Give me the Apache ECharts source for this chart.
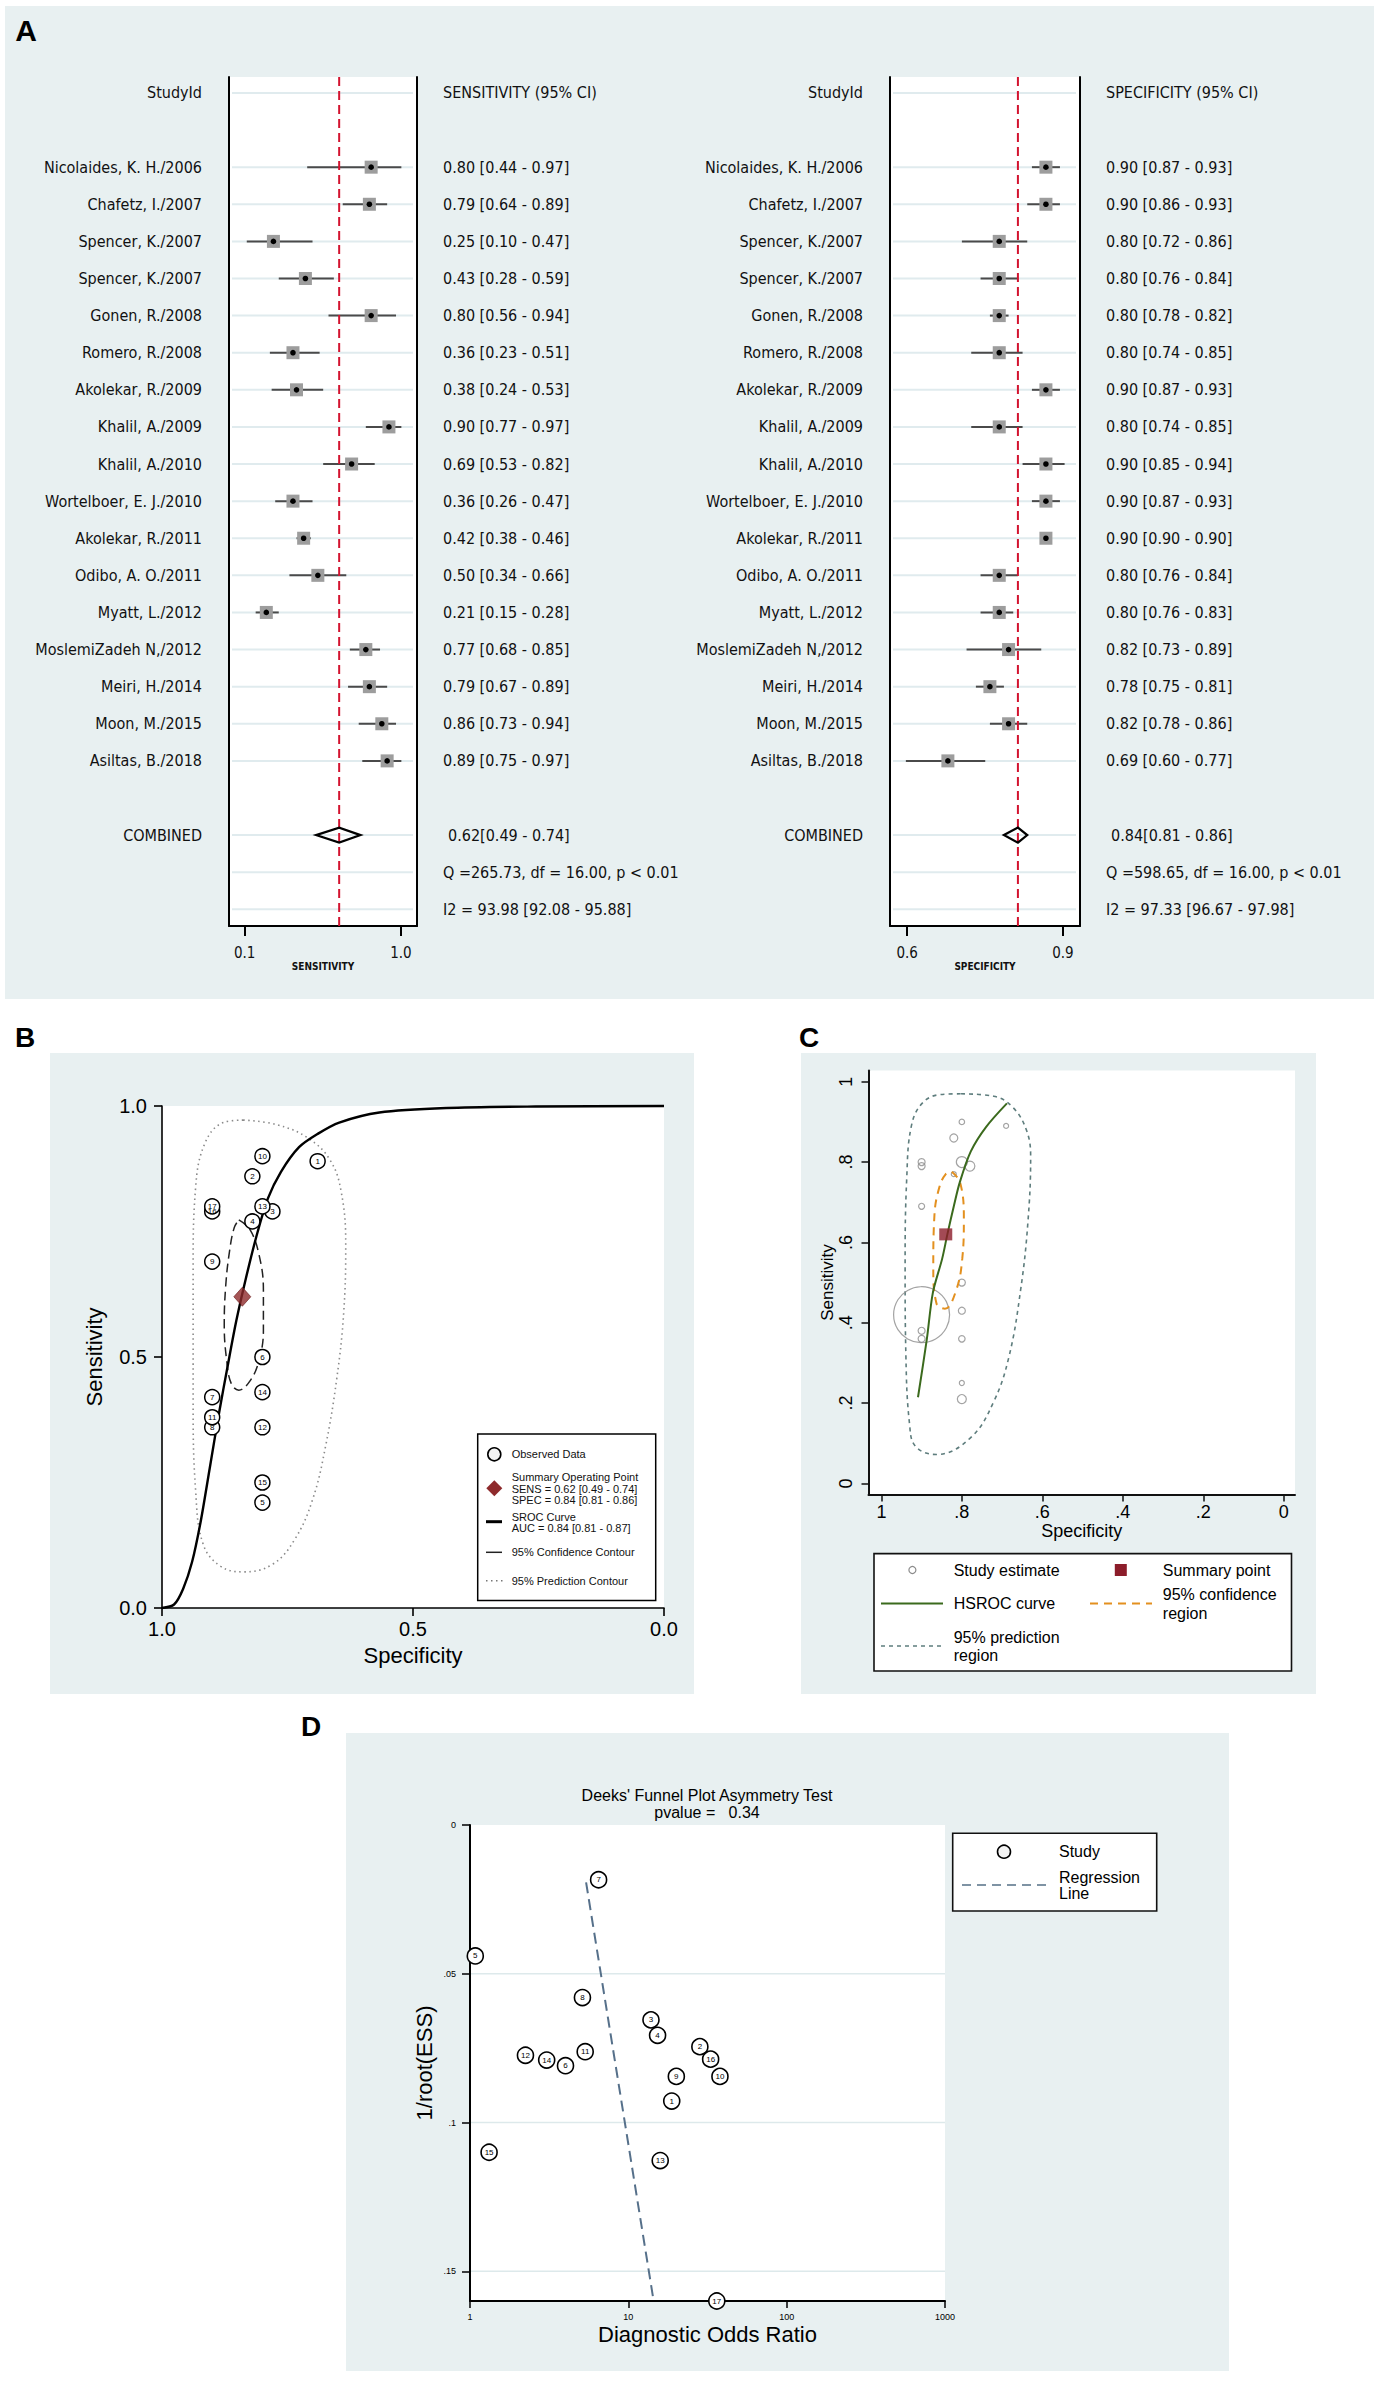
<!DOCTYPE html>
<html><head><meta charset="utf-8">
<script src="https://cdn.jsdelivr.net/npm/echarts@6/dist/echarts.min.js"></script>
<style>html,body{margin:0;padding:0;background:#fff}#c{width:1378px;height:2381px}</style>
</head><body><div id="c"></div>
<script>
// ---------------- DATA ----------------
const studies = ["Nicolaides, K. H./2006","Chafetz, I./2007","Spencer, K./2007","Spencer, K./2007","Gonen, R./2008","Romero, R./2008","Akolekar, R./2009","Khalil, A./2009","Khalil, A./2010","Wortelboer, E. J./2010","Akolekar, R./2011","Odibo, A. O./2011","Myatt, L./2012","MoslemiZadeh N,/2012","Meiri, H./2014","Moon, M./2015","Asiltas, B./2018"];
const sensEst = [0.80,0.79,0.25,0.43,0.80,0.36,0.38,0.90,0.69,0.36,0.42,0.50,0.21,0.77,0.79,0.86,0.89];
const sensLo  = [0.44,0.64,0.10,0.28,0.56,0.23,0.24,0.77,0.53,0.26,0.38,0.34,0.15,0.68,0.67,0.73,0.75];
const sensHi  = [0.97,0.89,0.47,0.59,0.94,0.51,0.53,0.97,0.82,0.47,0.46,0.66,0.28,0.85,0.89,0.94,0.97];
const specEst = [0.90,0.90,0.80,0.80,0.80,0.80,0.90,0.80,0.90,0.90,0.90,0.80,0.80,0.82,0.78,0.82,0.69];
const specLo  = [0.87,0.86,0.72,0.76,0.78,0.74,0.87,0.74,0.85,0.87,0.90,0.76,0.76,0.73,0.75,0.78,0.60];
const specHi  = [0.93,0.93,0.86,0.84,0.82,0.85,0.93,0.85,0.94,0.93,0.90,0.84,0.83,0.89,0.81,0.86,0.77];
const sensPooled = [0.62,0.49,0.74];
const specPooled = [0.84,0.81,0.86];
const sensHetQ = "Q =265.73, df = 16.00, p < 0.01";
const sensHetI2 = "I2 = 93.98 [92.08 - 95.88]";
const specHetQ = "Q =598.65, df = 16.00, p < 0.01";
const specHetI2 = "I2 = 97.33 [96.67 - 97.98]";
const sensTicks = [0.1, 1.0];
const specTicks = [0.6, 0.9];
// study numbers used in panels B and D (same order as studies)
const studyNumbers = [17,16,15,14,13,12,11,10,9,8,7,6,5,4,3,2,1];
// relative study weight shown in panel C (bubble diameter)
const studyWeightC = [7,7,5,7,11,6.5,7,5.5,6,7,56,7,9,5,10,8,5];
// Panel B curves: [specificity, sensitivity]
const srocCurve = [[1.0,0],[0.976,0.007],[0.958,0.038],[0.940,0.092],[0.923,0.172],[0.905,0.278],[0.887,0.385],[0.869,0.483],[0.852,0.572],[0.834,0.652],[0.812,0.740],[0.789,0.816],[0.763,0.869],[0.727,0.918],[0.689,0.945],[0.647,0.967],[0.567,0.987],[0.434,0.996],[0.256,0.999],[0,1.0]];
const confContourB = [[0.847,0.773],[0.825,0.754],[0.807,0.705],[0.798,0.634],[0.798,0.554],[0.807,0.492],[0.825,0.452],[0.847,0.434],[0.862,0.447],[0.871,0.492],[0.876,0.563],[0.873,0.643],[0.865,0.714],[0.856,0.758],[0.847,0.773]];
const predContourB = [[0.838,0.972],[0.772,0.963],[0.709,0.936],[0.665,0.892],[0.643,0.829],[0.634,0.723],[0.638,0.589],[0.652,0.456],[0.674,0.323],[0.700,0.216],[0.736,0.136],[0.780,0.087],[0.838,0.072],[0.883,0.083],[0.918,0.127],[0.933,0.234],[0.938,0.412],[0.938,0.678],[0.933,0.838],[0.914,0.927],[0.878,0.967],[0.838,0.972]];
// Panel C curves
const hsrocCurve = [[0.909,0.2145],[0.887,0.359],[0.872,0.475],[0.849,0.559],[0.836,0.620],[0.820,0.690],[0.805,0.750],[0.778,0.826],[0.740,0.887],[0.688,0.946]];
const confRegionC = [[0.825,0.776],[0.804,0.748],[0.795,0.659],[0.799,0.559],[0.814,0.481],[0.842,0.435],[0.863,0.448],[0.871,0.537],[0.868,0.670],[0.856,0.737],[0.840,0.770],[0.825,0.776]];
const predRegionC = [[0.802,0.970],[0.721,0.964],[0.674,0.937],[0.640,0.881],[0.629,0.814],[0.636,0.648],[0.654,0.481],[0.683,0.315],[0.721,0.203],[0.778,0.114],[0.863,0.072],[0.915,0.092],[0.930,0.148],[0.939,0.315],[0.941,0.537],[0.937,0.759],[0.925,0.892],[0.897,0.948],[0.854,0.968],[0.802,0.970]];
// Panel D (Deeks) by study number 1..17
const deeksNumber = [1,2,3,4,5,6,7,8,9,10,11,12,13,14,15,16,17];
const deeksDOR = [18.8,28.3,13.9,15.3,1.08,4.01,6.49,5.13,20.1,37.9,5.34,2.24,15.9,3.05,1.32,33.1,36.2];
const deeksInvRootESS = [0.0928,0.0745,0.0655,0.0707,0.044,0.0809,0.0184,0.058,0.0845,0.0845,0.0762,0.0774,0.1128,0.079,0.110,0.0787,0.16];
const deeksRegression = [[5.41,0.0193],[14.35,0.159]];
const deeksYTicks = [0,0.05,0.1,0.15];
const deeksPvalue = "0.34";
const unitTicksC = [0,0.2,0.4,0.6,0.8,1];

// ---------------- STYLE ----------------
const FN = "'Liberation Sans Narrow','Arial Narrow','DejaVu Sans Condensed',sans-serif";
const FS = "'Liberation Sans',Arial,Helvetica,sans-serif";
const BG = '#e8f0f1';
const ROWLINE = '#e0ebee';

const chart = echarts.init(document.getElementById('c'), null, {renderer:'svg', width:1378, height:2381});

function fmtCI(e,l,h){return e.toFixed(2)+' ['+l.toFixed(2)+' - '+h.toFixed(2)+']';}
function fmtPooled(p){return p[0].toFixed(2)+'['+p[1].toFixed(2)+' - '+p[2].toFixed(2)+']';}

const rowLines = [0,2,3,4,5,6,7,8,9,10,11,12,13,14,15,16,17,18,20,21,22];

function forestSeries(xi, yi, est, lo, hi, pooled, header, hetQ, hetI2){
  return [
    { type:'custom', xAxisIndex:xi, yAxisIndex:yi, clip:false, z:1, silent:true,
      data: rowLines.map(r=>[0.5,r]), encode:{x:0,y:1},
      renderItem:(params, api)=>{
        const cs = params.coordSys; const y = api.coord([api.value(0), api.value(1)])[1];
        return {type:'line', shape:{x1:cs.x+3,y1:y,x2:cs.x+cs.width-4,y2:y}, style:{stroke:ROWLINE,lineWidth:2}};
      }},
    { type:'custom', xAxisIndex:xi, yAxisIndex:yi, clip:false, z:3, silent:true,
      data: est.map((v,i)=>[v,i+2,lo[i],hi[i]]), encode:{x:0,y:1},
      renderItem:(params, api)=>{
        const i = params.dataIndex, cs = params.coordSys, row = api.value(1);
        const p = api.coord([api.value(0), row]);
        const a = api.coord([api.value(2), row]);
        const b = api.coord([api.value(3), row]);
        return {type:'group', children:[
          {type:'line', shape:{x1:a[0],y1:a[1],x2:b[0],y2:b[1]}, style:{stroke:'#4a4a4a',lineWidth:2}},
          {type:'rect', shape:{x:p[0]-6.5,y:p[1]-6.5,width:13,height:13}, style:{fill:'#9d9d9d'}},
          {type:'circle', shape:{cx:p[0],cy:p[1],r:2.8}, style:{fill:'#000'}},
          {type:'text', x:cs.x-27, y:p[1], style:{text:studies[i], fill:'#111', font:'16px '+FN, align:'right', verticalAlign:'middle'}},
          {type:'text', x:cs.x+cs.width+26, y:p[1], style:{text:fmtCI(est[i],lo[i],hi[i]), fill:'#111', font:'16px '+FN, align:'left', verticalAlign:'middle'}}
        ]};
      }},
    { type:'custom', xAxisIndex:xi, yAxisIndex:yi, clip:false, z:4, silent:true,
      data: [[pooled[0],20,pooled[1],pooled[2]]], encode:{x:0,y:1},
      renderItem:(params, api)=>{
        const cs = params.coordSys, row = api.value(1);
        const p = api.coord([api.value(0), row]);
        const a = api.coord([api.value(2), row]);
        const b = api.coord([api.value(3), row]);
        const y0 = api.coord([api.value(0), 0])[1];
        const y21 = api.coord([api.value(0), 21])[1];
        const y22 = api.coord([api.value(0), 22])[1];
        const tx = cs.x+cs.width+26, lx = cs.x-27;
        const T = (x,y,t,al)=>({type:'text', x:x, y:y, style:{text:t, fill:'#111', font:'16px '+FN, align:al, verticalAlign:'middle'}});
        return {type:'group', children:[
          {type:'line', shape:{x1:p[0],y1:cs.y,x2:p[0],y2:cs.y+cs.height}, style:{stroke:'#d3132f',lineWidth:2,lineDash:[9,5]}},
          {type:'polygon', shape:{points:[[a[0],p[1]],[p[0],p[1]-7.5],[b[0],p[1]],[p[0],p[1]+7.5]]}, style:{fill:'none',stroke:'#000',lineWidth:2.2}},
          T(lx,p[1],'COMBINED','right'),
          T(tx+5,p[1],fmtPooled(pooled),'left'),
          T(lx,y0,'StudyId','right'),
          T(tx,y0,header,'left'),
          T(tx,y21,hetQ,'left'),
          T(tx,y22,hetI2,'left')
        ]};
      }}
  ];
}

function bubbleLabel(){return {show:true, position:'inside', formatter:p=>String(p.data[2]), fontSize:8, color:'#000', fontFamily:FS};}

const orderAsc = studyNumbers.map((n,i)=>i).sort((a,b)=>studyNumbers[a]-studyNumbers[b]);

const rowAxis = (gi, pos)=>({type:'value', gridIndex:gi, min:-0.43, max:22.45, inverse:true, position:pos,
  axisLine:{show:true, onZero:false, lineStyle:{color:'#000',width:2}}, axisTick:{show:false}, axisLabel:{show:false}, splitLine:{show:false}});

const option = {
  animation:false,
  backgroundColor:'#fff',
  grid:[
    {left:229, top:77, width:188, height:849, show:true, backgroundColor:'#fff', borderWidth:0},
    {left:890, top:77, width:190, height:849, show:true, backgroundColor:'#fff', borderWidth:0},
    {left:162, top:1106, width:502, height:502, show:true, backgroundColor:'#fff', borderWidth:0},
    {left:868.5, top:1070.5, width:426.5, height:424, show:true, backgroundColor:'#fff', borderWidth:0},
    {left:470, top:1825, width:475, height:476, show:true, backgroundColor:'#fff', borderWidth:0}
  ],
  xAxis:[
    {type:'value', gridIndex:0, min:0, max:1.058, show:false, position:'top'},
    {type:'value', gridIndex:0, min:0.0102, max:1.0927, position:'bottom',
      axisLine:{show:true, onZero:false, lineStyle:{color:'#000',width:2}},
      axisTick:{show:true, length:10, customValues:sensTicks, lineStyle:{color:'#000',width:2}},
      axisLabel:{show:true, customValues:sensTicks, formatter:v=>v.toFixed(1), margin:19, fontSize:15, color:'#111', fontFamily:FN},
      splitLine:{show:false}, name:'SENSITIVITY', nameLocation:'middle', nameGap:35,
      nameTextStyle:{fontSize:10, fontWeight:'bold', color:'#111', fontFamily:FN}},
    {type:'value', gridIndex:1, min:0.566, max:0.973, show:false, position:'top'},
    {type:'value', gridIndex:1, min:0.567, max:0.933, position:'bottom',
      axisLine:{show:true, onZero:false, lineStyle:{color:'#000',width:2}},
      axisTick:{show:true, length:10, customValues:specTicks, lineStyle:{color:'#000',width:2}},
      axisLabel:{show:true, customValues:specTicks, formatter:v=>v.toFixed(1), margin:19, fontSize:15, color:'#111', fontFamily:FN},
      splitLine:{show:false}, name:'SPECIFICITY', nameLocation:'middle', nameGap:35,
      nameTextStyle:{fontSize:10, fontWeight:'bold', color:'#111', fontFamily:FN}},
    {type:'value', gridIndex:2, min:0, max:1, interval:0.5, inverse:true,
      axisLine:{show:true, onZero:false, lineStyle:{color:'#000',width:1.6}},
      axisTick:{show:true, length:8, lineStyle:{color:'#000',width:1.6}},
      axisLabel:{formatter:v=>v.toFixed(1), margin:11, fontSize:20, color:'#000', fontFamily:FS},
      splitLine:{show:false}, name:'Specificity', nameLocation:'middle', nameGap:36,
      nameTextStyle:{fontSize:22, color:'#000', fontFamily:FS}},
    {type:'value', gridIndex:3, min:-0.028, max:1.032, inverse:true,
      axisLine:{show:true, onZero:false, lineStyle:{color:'#111',width:2}},
      axisTick:{show:true, length:7, customValues:unitTicksC, lineStyle:{color:'#111',width:1.5}},
      axisLabel:{customValues:unitTicksC, formatter:v=>(v===0?'0':v===1?'1':'.'+Math.round(v*10)), margin:8, fontSize:18, color:'#000', fontFamily:FS},
      splitLine:{show:false}, name:'Specificity', nameLocation:'middle', nameGap:27,
      nameTextStyle:{fontSize:18, color:'#000', fontFamily:FS}},
    {type:'log', logBase:10, gridIndex:4, min:1, max:1000,
      axisLine:{show:true, onZero:false, lineStyle:{color:'#000',width:2}},
      axisTick:{show:true, length:7, lineStyle:{color:'#000',width:1.5}},
      axisLabel:{formatter:v=>String(Math.round(v)), margin:11, fontSize:9, color:'#000', fontFamily:FS},
      minorTick:{show:false}, splitLine:{show:false}, name:'Diagnostic Odds Ratio', nameLocation:'middle', nameGap:22,
      nameTextStyle:{fontSize:22, color:'#000', fontFamily:FS}}
  ],
  yAxis:[
    rowAxis(0,'left'), rowAxis(0,'right'), rowAxis(1,'left'), rowAxis(1,'right'),
    {type:'value', gridIndex:2, min:0, max:1, interval:0.5,
      axisLine:{show:true, onZero:false, lineStyle:{color:'#000',width:1.6}},
      axisTick:{show:true, length:8, lineStyle:{color:'#000',width:1.6}},
      axisLabel:{formatter:v=>v.toFixed(1), margin:15, fontSize:20, color:'#000', fontFamily:FS},
      splitLine:{show:false}, name:'Sensitivity', nameLocation:'middle', nameGap:57,
      nameTextStyle:{fontSize:22, color:'#000', fontFamily:FS}},
    {type:'value', gridIndex:3, min:-0.0276, max:1.028,
      axisLine:{show:true, onZero:false, lineStyle:{color:'#111',width:2}},
      axisTick:{show:true, length:7, customValues:unitTicksC, lineStyle:{color:'#111',width:1.5}},
      axisLabel:{customValues:unitTicksC, rotate:90, formatter:v=>(v===0?'0':v===1?'1':'.'+Math.round(v*10)), margin:14, fontSize:18, color:'#000', fontFamily:FS},
      splitLine:{show:false}, name:'Sensitivity', nameLocation:'middle', nameGap:30,
      nameTextStyle:{fontSize:17, color:'#000', fontFamily:FS}},
    {type:'value', gridIndex:4, min:0, max:0.16, inverse:true,
      axisLine:{show:true, onZero:false, lineStyle:{color:'#000',width:2}},
      axisTick:{show:true, length:8, customValues:deeksYTicks, lineStyle:{color:'#000',width:1.5}},
      axisLabel:{customValues:deeksYTicks, formatter:v=>(v===0?'0':String(v).replace(/^0/,'')), margin:14, fontSize:9, color:'#000', fontFamily:FS},
      splitLine:{show:false}, name:'1/root(ESS)', nameLocation:'middle', nameGap:35,
      nameTextStyle:{fontSize:22, color:'#000', fontFamily:FS}}
  ],
  series:[
    ...forestSeries(0,0,sensEst,sensLo,sensHi,sensPooled,'SENSITIVITY (95% CI)',sensHetQ,sensHetI2),
    ...forestSeries(2,2,specEst,specLo,specHi,specPooled,'SPECIFICITY (95% CI)',specHetQ,specHetI2),
    // Panel B
    {type:'line', xAxisIndex:4, yAxisIndex:4, data:predContourB, smooth:0.4, showSymbol:false, symbol:'none', clip:false, silent:true,
      lineStyle:{color:'#8a8a8a', width:1.6, type:[1.5,3.5]}, z:2},
    {type:'line', xAxisIndex:4, yAxisIndex:4, data:confContourB, smooth:0.4, showSymbol:false, symbol:'none', clip:false, silent:true,
      lineStyle:{color:'#222', width:1.5, type:[9,5]}, z:2},
    {type:'line', xAxisIndex:4, yAxisIndex:4, data:srocCurve, smooth:0.3, showSymbol:false, symbol:'none', clip:false, silent:true,
      lineStyle:{color:'#000', width:2.4}, z:3},
    {type:'scatter', xAxisIndex:4, yAxisIndex:4, clip:false, silent:true, z:4,
      data: orderAsc.map(i=>[specEst[i], sensEst[i], studyNumbers[i]]),
      symbol:'circle', symbolSize:15, itemStyle:{color:'#fff', borderColor:'#000', borderWidth:1.5, opacity:1},
      label:bubbleLabel()},
    {type:'scatter', xAxisIndex:4, yAxisIndex:4, clip:false, silent:true, z:5,
      data:[[specPooled[0], sensPooled[0]]], symbol:'diamond', symbolSize:[17,19],
      itemStyle:{color:'#8e2a2c', borderColor:'#6a1a1c', borderWidth:0.8}},
    // Panel C
    {type:'line', xAxisIndex:5, yAxisIndex:5, data:predRegionC, smooth:0.4, showSymbol:false, symbol:'none', clip:false, silent:true,
      lineStyle:{color:'#5e7d7d', width:1.6, type:[4,4]}, z:2},
    {type:'scatter', xAxisIndex:5, yAxisIndex:5, clip:false, silent:true, z:3,
      data: specEst.map((s,i)=>[s, sensEst[i], studyWeightC[i]]),
      symbol:'circle', symbolSize:d=>d[2], itemStyle:{color:'rgba(255,255,255,0)', borderColor:'#8c8c8c', borderWidth:1.2}},
    {type:'line', xAxisIndex:5, yAxisIndex:5, data:confRegionC, smooth:0.4, showSymbol:false, symbol:'none', clip:false, silent:true,
      lineStyle:{color:'#e3901f', width:2, type:[8,6]}, z:4},
    {type:'line', xAxisIndex:5, yAxisIndex:5, data:hsrocCurve, smooth:0.3, showSymbol:false, symbol:'none', clip:false, silent:true,
      lineStyle:{color:'#3b6a1d', width:2}, z:5},
    {type:'scatter', xAxisIndex:5, yAxisIndex:5, clip:false, silent:true, z:6,
      data:[[specPooled[0], sensPooled[0]]], symbol:'rect', symbolSize:[13,12], itemStyle:{color:'#8c1d2a'}},
    // Panel D grid lines
    {type:'custom', xAxisIndex:6, yAxisIndex:6, clip:false, z:1, silent:true,
      data: deeksYTicks.filter(v=>v>0).map(v=>[10,v]), encode:{x:0,y:1},
      renderItem:(params, api)=>{
        const cs = params.coordSys; const y = api.coord([api.value(0), api.value(1)])[1];
        return {type:'line', shape:{x1:cs.x+1,y1:y,x2:cs.x+cs.width,y2:y}, style:{stroke:'#dde9eb',lineWidth:1.6}};
      }},
    {type:'line', xAxisIndex:6, yAxisIndex:6, data:deeksRegression, showSymbol:false, symbol:'none', clip:false, silent:true,
      lineStyle:{color:'#56708a', width:2, type:[11,6]}, z:3},
    {type:'scatter', xAxisIndex:6, yAxisIndex:6, clip:false, silent:true, z:4,
      data: deeksDOR.map((d,i)=>[d, deeksInvRootESS[i], deeksNumber[i]]),
      symbol:'circle', symbolSize:16, itemStyle:{color:'#fff', borderColor:'#000', borderWidth:1.6, opacity:1},
      label:bubbleLabel()}
  ],
  graphic:[
    // panel backgrounds
    {type:'rect', z:-10, silent:true, shape:{x:5,y:6,width:1369,height:993}, style:{fill:BG}},
    {type:'rect', z:-10, silent:true, shape:{x:50,y:1053,width:644,height:641}, style:{fill:BG}},
    {type:'rect', z:-10, silent:true, shape:{x:801,y:1053,width:515,height:641}, style:{fill:BG}},
    {type:'rect', z:-10, silent:true, shape:{x:346,y:1733,width:883,height:638}, style:{fill:BG}},
    // panel letters
    {type:'text', x:26, y:30, z:10, style:{text:'A', font:'bold 30px '+FS, fill:'#000', align:'center', verticalAlign:'middle'}},
    {type:'text', x:25, y:1037, z:10, style:{text:'B', font:'bold 28px '+FS, fill:'#000', align:'center', verticalAlign:'middle'}},
    {type:'text', x:809, y:1037, z:10, style:{text:'C', font:'bold 28px '+FS, fill:'#000', align:'center', verticalAlign:'middle'}},
    {type:'text', x:311, y:1726, z:10, style:{text:'D', font:'bold 28px '+FS, fill:'#000', align:'center', verticalAlign:'middle'}},
    // Panel D title
    {type:'text', x:707, y:1795, z:10, style:{text:"Deeks' Funnel Plot Asymmetry Test", font:'16px '+FS, fill:'#000', align:'center', verticalAlign:'middle'}},
    {type:'text', x:707, y:1812, z:10, style:{text:'pvalue =   '+deeksPvalue, font:'16px '+FS, fill:'#000', align:'center', verticalAlign:'middle'}},
    // Panel B legend
    {type:'group', z:20, children:[
      {type:'rect', shape:{x:477.7,y:1434,width:178,height:166.5}, style:{fill:'#fff', stroke:'#000', lineWidth:1.5}},
      {type:'circle', shape:{cx:494.3,cy:1454.3,r:6.5}, style:{fill:'#f4f4f4', stroke:'#000', lineWidth:1.6}},
      {type:'polygon', shape:{points:[[494.3,1480.3],[502.3,1488.3],[494.3,1496.3],[486.3,1488.3]]}, style:{fill:'#8e2a2c'}},
      {type:'line', shape:{x1:486,y1:1521.7,x2:502,y2:1521.7}, style:{stroke:'#000', lineWidth:3}},
      {type:'line', shape:{x1:486,y1:1552.3,x2:502,y2:1552.3}, style:{stroke:'#222', lineWidth:1.5}},
      {type:'line', shape:{x1:486,y1:1580.7,x2:503,y2:1580.7}, style:{stroke:'#777', lineWidth:1.4, lineDash:[1.5,3.5]}},
      {type:'text', x:511.7, y:1454.3, style:{text:'Observed Data', font:'11px '+FS, fill:'#111', verticalAlign:'middle'}},
      {type:'text', x:511.7, y:1477.3, style:{text:'Summary Operating Point', font:'11px '+FS, fill:'#111', verticalAlign:'middle'}},
      {type:'text', x:511.7, y:1488.7, style:{text:'SENS = 0.62 [0.49 - 0.74]', font:'11px '+FS, fill:'#111', verticalAlign:'middle'}},
      {type:'text', x:511.7, y:1500, style:{text:'SPEC = 0.84 [0.81 - 0.86]', font:'11px '+FS, fill:'#111', verticalAlign:'middle'}},
      {type:'text', x:511.7, y:1517.3, style:{text:'SROC Curve', font:'11px '+FS, fill:'#111', verticalAlign:'middle'}},
      {type:'text', x:511.7, y:1528.3, style:{text:'AUC = 0.84 [0.81 - 0.87]', font:'11px '+FS, fill:'#111', verticalAlign:'middle'}},
      {type:'text', x:511.7, y:1552.3, style:{text:'95% Confidence Contour', font:'11px '+FS, fill:'#111', verticalAlign:'middle'}},
      {type:'text', x:511.7, y:1580.7, style:{text:'95% Prediction Contour', font:'11px '+FS, fill:'#111', verticalAlign:'middle'}}
    ]},
    // Panel C legend
    {type:'group', z:20, children:[
      {type:'rect', shape:{x:874,y:1553.6,width:417.5,height:117.4}, style:{fill:'#fff', stroke:'#111', lineWidth:1.6}},
      {type:'circle', shape:{cx:912.4,cy:1570,r:3.5}, style:{fill:'none', stroke:'#8c8c8c', lineWidth:1.2}},
      {type:'rect', shape:{x:1114.8,y:1564,width:12,height:12}, style:{fill:'#8c1d2a'}},
      {type:'line', shape:{x1:881,y1:1603.6,x2:943,y2:1603.6}, style:{stroke:'#3b6a1d', lineWidth:2}},
      {type:'line', shape:{x1:1090,y1:1603.6,x2:1152,y2:1603.6}, style:{stroke:'#e3901f', lineWidth:2, lineDash:[8,6]}},
      {type:'line', shape:{x1:881,y1:1646,x2:943,y2:1646}, style:{stroke:'#5e7d7d', lineWidth:1.6, lineDash:[4,4]}},
      {type:'text', x:953.7, y:1570, style:{text:'Study estimate', font:'16px '+FS, fill:'#000', verticalAlign:'middle'}},
      {type:'text', x:1162.8, y:1570, style:{text:'Summary point', font:'16px '+FS, fill:'#000', verticalAlign:'middle'}},
      {type:'text', x:953.7, y:1603.6, style:{text:'HSROC curve', font:'16px '+FS, fill:'#000', verticalAlign:'middle'}},
      {type:'text', x:1162.8, y:1594.6, style:{text:'95% confidence', font:'16px '+FS, fill:'#000', verticalAlign:'middle'}},
      {type:'text', x:1162.8, y:1613, style:{text:'region', font:'16px '+FS, fill:'#000', verticalAlign:'middle'}},
      {type:'text', x:953.7, y:1637.5, style:{text:'95% prediction', font:'16px '+FS, fill:'#000', verticalAlign:'middle'}},
      {type:'text', x:953.7, y:1655, style:{text:'region', font:'16px '+FS, fill:'#000', verticalAlign:'middle'}}
    ]},
    // Panel D legend
    {type:'group', z:20, children:[
      {type:'rect', shape:{x:952.7,y:1833.3,width:204,height:77.7}, style:{fill:'#fff', stroke:'#111', lineWidth:1.6}},
      {type:'circle', shape:{cx:1004,cy:1851.7,r:6.5}, style:{fill:'#f4f4f4', stroke:'#000', lineWidth:1.6}},
      {type:'line', shape:{x1:962,y1:1885,x2:1046,y2:1885}, style:{stroke:'#7f93a4', lineWidth:2, lineDash:[9,6]}},
      {type:'text', x:1059, y:1851, style:{text:'Study', font:'16px '+FS, fill:'#000', verticalAlign:'middle'}},
      {type:'text', x:1059, y:1877, style:{text:'Regression', font:'16px '+FS, fill:'#000', verticalAlign:'middle'}},
      {type:'text', x:1059, y:1893, style:{text:'Line', font:'16px '+FS, fill:'#000', verticalAlign:'middle'}}
    ]}
  ]
};
chart.setOption(option);
</script></body></html>
